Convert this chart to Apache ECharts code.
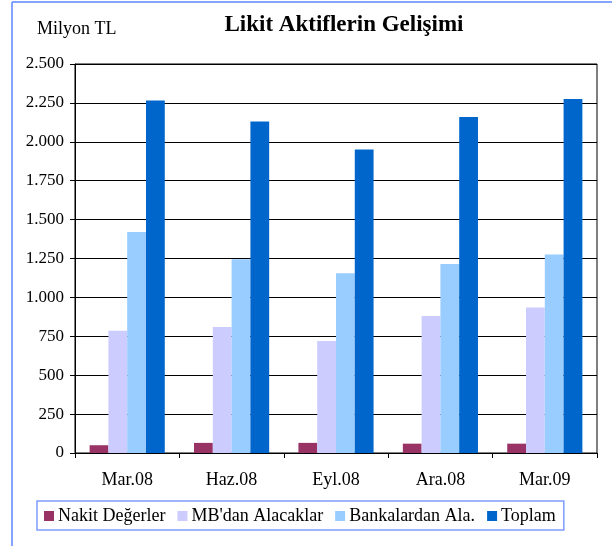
<!DOCTYPE html>
<html>
<head>
<meta charset="utf-8">
<script src="https://cdn.jsdelivr.net/npm/echarts@6/dist/echarts.min.js"></script>
<style>
html, body { margin: 0; padding: 0; background: #fff; }
#chart { width: 612px; height: 546px; }
</style>
</head>
<body>
<div id="chart"></div>
<script>
var categories = ['Mar.08', 'Haz.08', 'Eyl.08', 'Ara.08', 'Mar.09'];
var nakit = [50, 65, 65, 60, 60];
var mbAlacak = [785, 810, 720, 880, 935];
var bankalar = [1420, 1245, 1155, 1215, 1275];
var toplam = [2265, 2130, 1950, 2160, 2275];
var seriesNames = ['Nakit Değerler', "MB'dan Alacaklar", 'Bankalardan Ala.', 'Toplam'];
var seriesColors = ['#993366', '#CCCCFF', '#99CCFF', '#0066CC'];

var font = "'Liberation Serif', 'Times New Roman', serif";
var myChart = echarts.init(document.getElementById('chart'));

//binlik ayraç nokta
function fmt(v) {
	return String(v).replace(/\B(?=(\d{3})+(?!\d))/g, '.');
}

var dataList = [nakit, mbAlacak, bankalar, toplam];
var series = [];
for (var i = 0; i < dataList.length; i++) {
	series.push({
		name: seriesNames[i],
		type: 'bar',
		data: dataList[i],
		barGap: 0,
		barCategoryGap: '28%',
		itemStyle: { color: seriesColors[i] },
		animation: false
	});
}

myChart.setOption({
	animation: false,
	textStyle: { fontFamily: font },
	title: {
		text: 'Likit Aktiflerin Gelişimi',
		left: 339,
		top: 9,
		textAlign: 'center',
		textStyle: { fontFamily: font, fontSize: 23, fontWeight: 'bold', color: '#000' }
	},
	legend: {
		data: seriesNames,
		left: 37,
		top: 501,
		width: 540,
		padding: [6, 8, 5, 7],
		itemWidth: 10,
		itemHeight: 10,
		itemGap: 12,
		icon: 'rect',
		borderColor: '#7f9cff',
		borderWidth: 1.5,
		textStyle: { fontFamily: font, fontSize: 18, color: '#000', padding: [0, 0, 0, -1] }
	},
	grid: {
		left: 75,
		right: 15,
		top: 64,
		bottom: 93,
		show: true,
		borderColor: '#000',
		borderWidth: 1
	},
	xAxis: {
		type: 'category',
		data: categories,
		axisLine: { lineStyle: { color: '#000', width: 1 } },
		axisTick: { show: true, length: 5, inside: false, lineStyle: { color: '#000' } },
		axisLabel: { fontFamily: font, fontSize: 18, color: '#000', margin: 18 }
	},
	yAxis: {
		type: 'value',
		min: 0,
		max: 2500,
		interval: 250,
		axisLine: { show: true, lineStyle: { color: '#000', width: 1 } },
		axisTick: { show: true, length: 5, lineStyle: { color: '#000' } },
		axisLabel: { fontFamily: font, fontSize: 17, color: '#000', margin: 11, formatter: fmt },
		splitLine: { lineStyle: { color: '#000', width: 1 } }
	},
	graphic: [
		{ type: 'line', shape: { x1: 12, y1: 2, x2: 12, y2: 546 }, style: { stroke: '#5b86ff', lineWidth: 1.5 } },
		{ type: 'line', shape: { x1: 12, y1: 2, x2: 612, y2: 2 }, style: { stroke: '#5b86ff', lineWidth: 1.5 } },
		{ type: 'text', left: 37, top: 20, style: { text: 'Milyon TL', fontFamily: font, fontSize: 18, fill: '#000' } }
	],
	series: series
});
</script>
</body>
</html>
